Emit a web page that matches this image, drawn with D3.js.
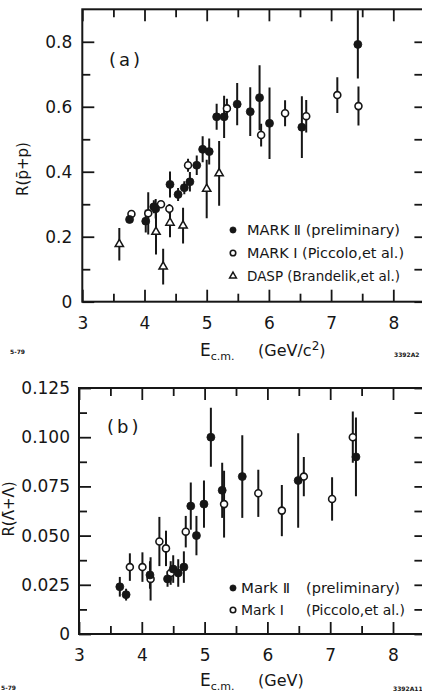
<!DOCTYPE html>
<html>
<head>
<meta charset="utf-8">
<script src="https://cdn.jsdelivr.net/npm/d3@7"></script>
<style>
  html, body { margin: 0; padding: 0; background: #fff; }
  svg { display: block; }
  text { font-family: "DejaVu Sans", sans-serif; fill: #161616; }
</style>
</head>
<body>
<script>
// ---- panel (a): R(pbar + p) vs E_cm ----
var aMark2E   = [3.76, 4.02, 4.15, 4.18, 4.41, 4.54, 4.64, 4.73, 4.84, 4.935, 5.04, 5.16, 5.28, 5.49, 5.70, 5.85, 6.01, 6.53, 7.43];
var aMark2R   = [0.253, 0.248, 0.292, 0.286, 0.361, 0.330, 0.351, 0.369, 0.420, 0.469, 0.462, 0.569, 0.569, 0.608, 0.585, 0.628, 0.549, 0.537, 0.792];
var aMark2Err = [0.010, 0.035, 0.020, 0.030, 0.040, 0.020, 0.020, 0.030, 0.030, 0.040, 0.040, 0.040, 0.065, 0.065, 0.075, 0.100, 0.110, 0.095, 0.105];

var aMark1E   = [3.79, 4.06, 4.265, 4.40, 4.70, 5.325, 5.875, 6.26, 6.60, 7.10, 7.44];
var aMark1R   = [0.270, 0.272, 0.300, 0.286, 0.420, 0.595, 0.513, 0.580, 0.571, 0.636, 0.602];
var aMark1Err = [0.010, 0.065, 0.010, 0.015, 0.020, 0.030, 0.035, 0.040, 0.050, 0.055, 0.060];

var aDaspE    = [3.595, 4.185, 4.30, 4.41, 4.62, 5.00, 5.20];
var aDaspR    = [0.177, 0.215, 0.108, 0.243, 0.234, 0.347, 0.395];
var aDaspErr  = [0.050, 0.070, 0.055, 0.045, 0.055, 0.090, 0.100];

// ---- panel (b): R(Lambda bar + Lambda) vs E_cm ----
var bMark2E   = [3.65, 3.75, 4.13, 4.41, 4.50, 4.58, 4.67, 4.78, 4.87, 4.99, 5.10, 5.28, 5.60, 6.49, 7.41];
var bMark2R   = [0.024, 0.020, 0.030, 0.028, 0.033, 0.031, 0.034, 0.065, 0.050, 0.066, 0.100, 0.073, 0.080, 0.078, 0.090];
var bMark2Err = [0.005, 0.003, 0.007, 0.004, 0.007, 0.007, 0.008, 0.012, 0.010, 0.012, 0.015, 0.014, 0.021, 0.024, 0.020];

var bMark1E   = [3.81, 4.01, 4.14, 4.28, 4.385, 4.46, 4.70, 5.31, 5.855, 6.23, 6.58, 7.03, 7.36];
var bMark1R   = [0.034, 0.034, 0.028, 0.047, 0.0435, 0.031, 0.052, 0.066, 0.0715, 0.0627, 0.080, 0.0686, 0.100];
var bMark1Err = [0.007, 0.0075, 0.011, 0.0125, 0.009, 0.006, 0.008, 0.017, 0.012, 0.013, 0.010, 0.011, 0.013];

// ---- ticks ----
var xTicks = [3, 4, 5, 6, 7, 8];
var xMinorTicks = [3.5, 4.5, 5.5, 6.5, 7.5];
var aYTicks = [0, 0.2, 0.4, 0.6, 0.8];
var aYLabels = ['0', '0.2', '0.4', '0.6', '0.8'];
var aYMinorTicks = [0.1, 0.3, 0.5, 0.7];
var bYTicks = [0, 0.025, 0.05, 0.075, 0.1, 0.125];
var bYLabels = ['0', '0.025', '0.050', '0.075', '0.100', '0.125'];
var bYMinorTicks = [0.0125, 0.0375, 0.0625, 0.0875, 0.1125];

var INK = '#161616';

var svg = d3.select('body').append('svg')
    .attr('width', 422)
    .attr('height', 693)
    .attr('xmlns', 'http://www.w3.org/2000/svg');

var zip = function(E, R, err) {
    return E.map(function(e, i) { return { e: e, r: R[i], err: err[i] }; });
};

var styleMarker = function(sel, kind, small) {
    if (kind === 'filled') {
        sel.attr('d', d3.symbol(d3.symbolCircle, small ? 30 : 50)())
          .attr('fill', INK).attr('stroke', INK).attr('stroke-width', 0.8);
    } else if (kind === 'open') {
        sel.attr('d', d3.symbol(d3.symbolCircle, small ? 24 : 38)())
          .attr('fill', '#fff').attr('stroke', INK).attr('stroke-width', 1.6);
    } else {
        sel.attr('d', d3.symbol(d3.symbolTriangle, small ? 20 : 30)())
          .attr('fill', '#fff').attr('stroke', INK).attr('stroke-width', 1.5);
    }
};

var drawPanel = function(cfg) {
    var x = d3.scaleLinear().domain([3, 8.5]).range([cfg.left, cfg.right]);
    var y = d3.scaleLinear().domain(cfg.yDomain).range([cfg.bottom, cfg.top]);
    var g = svg.append('g').attr('id', cfg.id);

    var styleAxis = function(sel) {
        sel.select('.domain').remove();
        sel.selectAll('line').attr('stroke', INK).attr('stroke-width', 1.8);
        sel.selectAll('text').attr('fill', INK).style('font-size', '17px')
            .style('font-family', '"DejaVu Sans", sans-serif');
    };

    // bottom (labelled) + minor
    g.append('g').attr('transform', 'translate(0,' + cfg.bottom + ')')
      .call(d3.axisBottom(x).tickValues(xTicks).tickSize(-12).tickPadding(15).tickFormat(d3.format('d')))
      .call(styleAxis);
    g.append('g').attr('transform', 'translate(0,' + cfg.bottom + ')')
      .call(d3.axisBottom(x).tickValues(xMinorTicks).tickSize(-8).tickFormat(''))
      .call(styleAxis);
    // top
    g.append('g').attr('transform', 'translate(0,' + cfg.top + ')')
      .call(d3.axisTop(x).tickValues(xTicks).tickSize(-12).tickFormat(''))
      .call(styleAxis);
    g.append('g').attr('transform', 'translate(0,' + cfg.top + ')')
      .call(d3.axisTop(x).tickValues(xMinorTicks).tickSize(-8).tickFormat(''))
      .call(styleAxis);
    // left (labelled) + minor
    g.append('g').attr('transform', 'translate(' + cfg.left + ',0)')
      .call(d3.axisLeft(y).tickValues(cfg.yTicks).tickSize(-12).tickPadding(cfg.yPad)
            .tickFormat(function(d, i) { return cfg.yLabels[i]; }))
      .call(styleAxis);
    g.append('g').attr('transform', 'translate(' + cfg.left + ',0)')
      .call(d3.axisLeft(y).tickValues(cfg.yMinor).tickSize(-8).tickFormat(''))
      .call(styleAxis);
    // right
    g.append('g').attr('transform', 'translate(' + cfg.right + ',0)')
      .call(d3.axisRight(y).tickValues(cfg.yTicks.concat(cfg.yMinor)).tickSize(-10).tickFormat(''))
      .call(styleAxis);

    // frame
    g.append('rect')
      .attr('x', cfg.left).attr('y', cfg.top)
      .attr('width', cfg.right - cfg.left).attr('height', cfg.bottom - cfg.top)
      .attr('fill', 'none').attr('stroke', INK).attr('stroke-width', 2);

    var clipId = cfg.id + '-clip';
    g.append('clipPath').attr('id', clipId).append('rect')
      .attr('x', cfg.left).attr('y', cfg.top)
      .attr('width', cfg.right - cfg.left).attr('height', cfg.bottom - cfg.top);

    var plot = g.append('g').attr('clip-path', 'url(#' + clipId + ')');

    // error bars first, markers on top
    cfg.series.forEach(function(s) {
        plot.append('g').selectAll('line')
          .data(s.data).enter()
          .append('line')
            .attr('x1', function(d) { return x(d.e); })
            .attr('x2', function(d) { return x(d.e); })
            .attr('y1', function(d) { return y(d.r - d.err); })
            .attr('y2', function(d) { return y(d.r + d.err); })
            .attr('stroke', INK).attr('stroke-width', 2);
    });
    cfg.series.forEach(function(s) {
        var m = plot.append('g').selectAll('path')
          .data(s.data).enter()
          .append('path')
            .attr('transform', function(d) { return 'translate(' + x(d.e) + ',' + y(d.r) + ')'; });
        styleMarker(m, s.kind, false);
    });

    // legend
    var lg = g.append('g');
    cfg.legend.forEach(function(row) {
        var m = lg.append('path').attr('transform', 'translate(233,' + row.y + ')');
        styleMarker(m, row.kind, true);
        row.parts.forEach(function(p) {
            lg.append('text')
              .attr('x', p.x).attr('y', row.y).attr('dy', '0.36em')
              .attr('textLength', p.w).attr('lengthAdjust', 'spacingAndGlyphs')
              .style('font-size', '14px')
              .text(p.t);
        });
    });

    // panel tag
    g.append('text').attr('x', cfg.tag.x).attr('y', cfg.tag.y)
      .style('font-size', '18px').style('letter-spacing', '3px')
      .text(cfg.tag.t);
};

drawPanel({
    id: 'pa', left: 82.3, right: 424.4, top: 9.3, bottom: 301.7,
    yDomain: [0, 0.9], yTicks: aYTicks, yLabels: aYLabels, yMinor: aYMinorTicks, yPad: 10,
    series: [
        { kind: 'triangle', data: zip(aDaspE, aDaspR, aDaspErr) },
        { kind: 'open', data: zip(aMark1E, aMark1R, aMark1Err) },
        { kind: 'filled', data: zip(aMark2E, aMark2R, aMark2Err) }
    ],
    legend: [
        { kind: 'filled', y: 230, parts: [{ x: 247, w: 153, t: 'MARK \u2161 (preliminary)' }] },
        { kind: 'open', y: 253, parts: [{ x: 247, w: 157, t: 'MARK \u2160 (Piccolo,et al.)' }] },
        { kind: 'triangle', y: 276, parts: [{ x: 247, w: 153, t: 'DASP (Brandelik,et al.)' }] }
    ],
    tag: { x: 109, y: 66, t: '(a)' }
});

drawPanel({
    id: 'pb', left: 79, right: 424.4, top: 388, bottom: 634,
    yDomain: [0, 0.125], yTicks: bYTicks, yLabels: bYLabels, yMinor: bYMinorTicks, yPad: 9,
    series: [
        { kind: 'open', data: zip(bMark1E, bMark1R, bMark1Err) },
        { kind: 'filled', data: zip(bMark2E, bMark2R, bMark2Err) }
    ],
    legend: [
        { kind: 'filled', y: 588, parts: [{ x: 241, w: 49, t: 'Mark \u2161' }, { x: 306, w: 94, t: '(preliminary)' }] },
        { kind: 'open', y: 610, parts: [{ x: 241, w: 43, t: 'Mark \u2160' }, { x: 306, w: 99, t: '(Piccolo,et al.)' }] }
    ],
    tag: { x: 107, y: 433, t: '(b)' }
});

// axis titles
var yTitle = function(cx, cy, t) {
    svg.append('text')
      .attr('transform', 'translate(' + cx + ',' + cy + ') rotate(-90)')
      .attr('text-anchor', 'middle').attr('dy', '0.35em')
      .style('font-size', '15px')
      .text(t);
};
yTitle(23, 169, 'R(p\u0304+p)');
yTitle(9, 509, 'R(\u039B\u0304+\u039B)');

var xTitle = function(yBase, unitParts) {
    var t = svg.append('text').attr('x', 200).attr('y', yBase).style('font-size', '17px');
    t.append('tspan').text('E');
    t.append('tspan').attr('dy', 4).style('font-size', '11px').text('c.m.');
    var u = svg.append('text').attr('x', 258).attr('y', yBase).style('font-size', '16px');
    unitParts.forEach(function(p) {
        u.append('tspan').attr('dy', p.dy || 0).style('font-size', p.fs || '16px').text(p.t);
    });
};
xTitle(356, [{ t: '(GeV/c' }, { t: '2', dy: -6, fs: '12px' }, { t: ')', dy: 6 }]);
xTitle(686, [{ t: '(GeV)' }]);

// plate codes
var code = function(x, yy, t) {
    svg.append('text').attr('x', x).attr('y', yy)
      .style('font-size', '6px').style('font-weight', 'bold').text(t);
};
code(10, 354, '5-79');
code(394, 357, '3392A2');
code(1, 690, '5-79');
code(393, 691, '3392A11');
</script>
</body>
</html>
